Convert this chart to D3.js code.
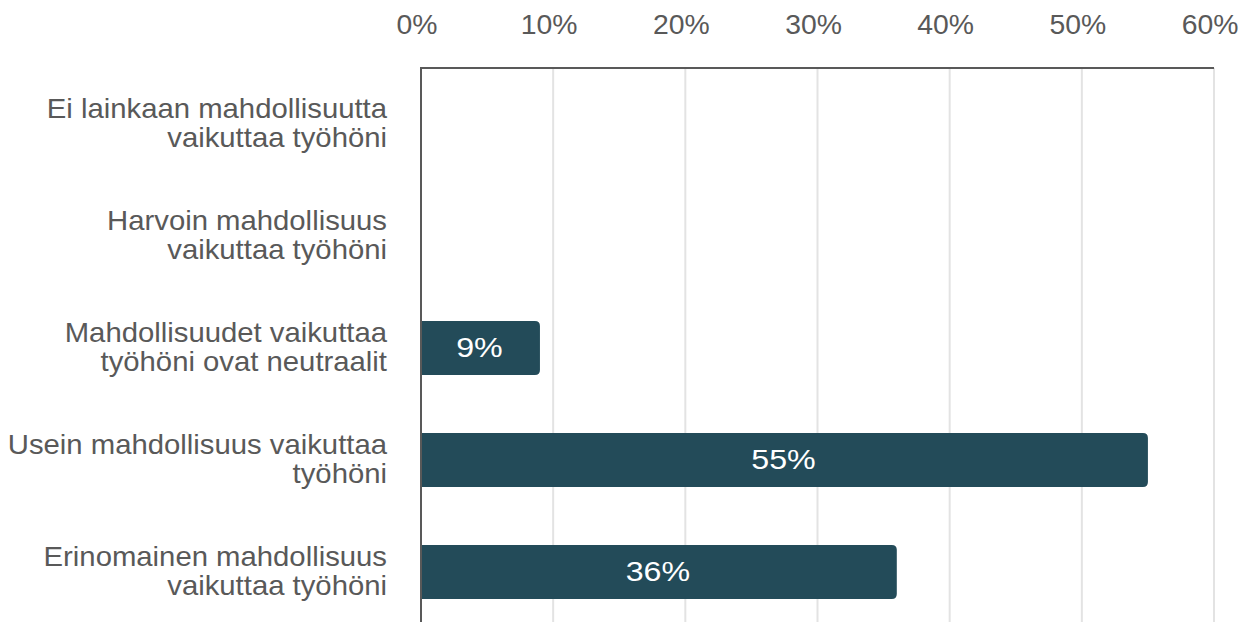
<!DOCTYPE html>
<html>
<head>
<meta charset="utf-8">
<script src="https://cdn.jsdelivr.net/npm/d3@7"></script>
<style>
  html, body { margin: 0; padding: 0; background: #fff; }
  svg { display: block; font-family: "Liberation Sans", Arial, sans-serif; }
</style>
</head>
<body>
<svg id="chart" width="1246" height="622"></svg>
<script>
const categories = [
  ['Ei lainkaan mahdollisuutta', 'vaikuttaa työhöni'],
  ['Harvoin mahdollisuus', 'vaikuttaa työhöni'],
  ['Mahdollisuudet vaikuttaa', 'työhöni ovat neutraalit'],
  ['Usein mahdollisuus vaikuttaa', 'työhöni'],
  ['Erinomainen mahdollisuus', 'vaikuttaa työhöni']
];
const values = [0, 0, 9, 55, 36];
const xTicks = [0, 10, 20, 30, 40, 50, 60];

const svg = d3.select('#chart');
const plotLeft = 421, plotRight = 1214, plotTop = 68, plotBottom = 628;

const x = d3.scaleLinear().domain([0, 60]).range([plotLeft, plotRight]);
const y = d3.scaleBand().domain(d3.range(categories.length)).range([plotTop, plotBottom])
  .paddingInner(0.52).paddingOuter(0.26);

const textColor = '#595959';
const barColor = '#234b59';

// gridlines
svg.append('g')
  .selectAll('line')
  .data(xTicks.filter(d => d > 0))
  .join('line')
  .attr('x1', d => x(d)).attr('x2', d => x(d))
  .attr('y1', plotTop).attr('y2', 622)
  .attr('stroke', '#e3e3e3')
  .attr('stroke-width', 2);

// top axis labels
svg.append('g')
  .selectAll('text')
  .data(xTicks)
  .join('text')
  .attr('text-anchor', 'middle')
  .attr('fill', textColor)
  .attr('font-size', 27)
  .attr('transform', d => `translate(${x(d) - 4},34) scale(1.05,1)`)
  .text(d => d + '%');

// bars with rounded right end
function barPath(x0, x1, y0, h, r) {
  if (x1 - x0 <= 0) return '';
  r = Math.min(r, (x1 - x0) / 2);
  return `M${x0},${y0}H${x1 - r}Q${x1},${y0} ${x1},${y0 + r}V${y0 + h - r}Q${x1},${y0 + h} ${x1 - r},${y0 + h}H${x0}Z`;
}

svg.append('g')
  .selectAll('path')
  .data(values)
  .join('path')
  .attr('d', (d, i) => barPath(x(0), x(d), y(i), y.bandwidth(), 5))
  .attr('fill', barColor);

svg.append('g')
  .selectAll('text')
  .data(values.map((v, i) => ({ v, i })).filter(d => d.v > 0))
  .join('text')
  .attr('text-anchor', 'middle')
  .attr('fill', '#ffffff')
  .attr('font-size', 28)
  .attr('transform', d => `translate(${(x(0) + x(d.v)) / 2 - 1},${y(d.i) + y.bandwidth() / 2 + 9}) scale(1.15,1)`)
  .text(d => d.v + '%');

// axis lines
svg.append('line')
  .attr('x1', plotLeft - 1).attr('x2', plotRight).attr('y1', plotTop).attr('y2', plotTop)
  .attr('stroke', '#595959').attr('stroke-width', 2);
svg.append('line')
  .attr('x1', plotLeft).attr('x2', plotLeft).attr('y1', plotTop).attr('y2', 622)
  .attr('stroke', '#595959').attr('stroke-width', 2);

// category labels
const labels = svg.append('g')
  .selectAll('text')
  .data(categories)
  .join('text')
  .attr('text-anchor', 'end')
  .attr('fill', textColor)
  .attr('font-size', 27)
  .attr('transform', (d, i) => `translate(387,${y(i) + y.bandwidth() / 2 - 6}) scale(1.085,1)`);

labels.selectAll('tspan')
  .data(d => d)
  .join('tspan')
  .attr('x', 0)
  .attr('dy', (d, j) => j === 0 ? 0 : 29.5)
  .text(d => d);
</script>
</body>
</html>
